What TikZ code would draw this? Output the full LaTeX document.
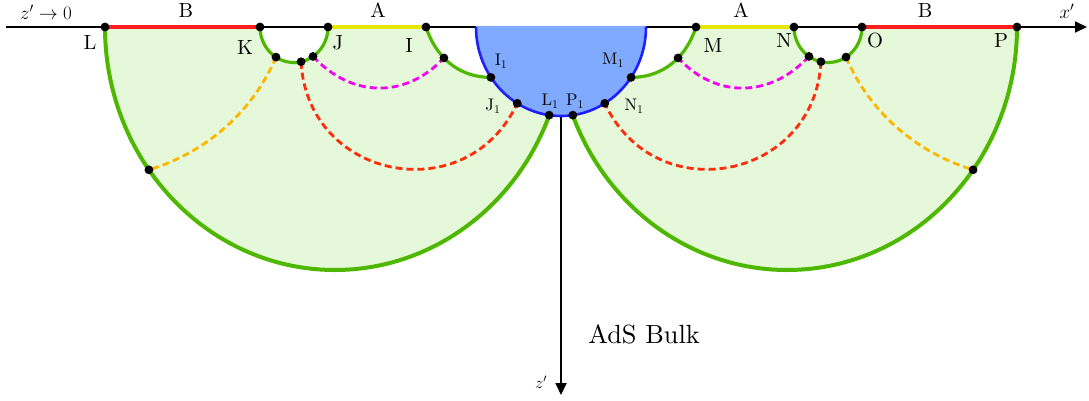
\RequirePackage{fix-cm}
\documentclass[tikz,border=0pt]{standalone}
\usepackage{fontspec}
\setmainfont{lmroman10-regular}[Extension=.otf]
\usetikzlibrary{arrows.meta}
\definecolor{gstroke}{RGB}{78,184,0}
\definecolor{gfill}{RGB}{229,248,218}
\definecolor{bfill}{RGB}{128,170,255}
\definecolor{bstroke}{RGB}{30,30,255}
\definecolor{axred}{RGB}{255,30,30}
\definecolor{axyellow}{RGB}{228,232,0}
\definecolor{dred}{RGB}{255,45,10}
\definecolor{dorange}{RGB}{255,182,0}
\definecolor{dmag}{RGB}{245,0,245}
\newcommand\lblfont{\fontsize{20.5}{24}\selectfont}
\newcommand\sublblfont{\fontsize{16.8}{20}\selectfont}
\newcommand\mathlblfont{\fontsize{19}{22}\selectfont}
\newcommand\zfont{\fontsize{16.5}{19}\selectfont}
\newcommand\bulkfont{\fontsize{26.3}{31}\selectfont}
\tikzset{
  gbig/.style={draw=gstroke,line width=4pt},
  gsmall/.style={draw=gstroke,line width=3.2pt},
  bline/.style={draw=bstroke,line width=2.6pt},
  axline/.style={line width=1.8pt,-{Triangle[length=12pt,width=11pt]}},
  seg/.style={line width=4pt},
  dsh/.style={line width=2.8pt,dash pattern=on 7pt off 4pt},
  lab/.style={inner sep=0pt,font=\lblfont},
  slab/.style={inner sep=0pt,font=\sublblfont},
  mlab/.style={inner sep=0pt,font=\mathlblfont},
}
\begin{document}
\begin{tikzpicture}[x=1pt,y=1pt]
\useasboundingbox (0,0) rectangle (1089,-400);
% axis points
\coordinate (L) at (105,-27);
\coordinate (K) at (260,-27);
\coordinate (J) at (328,-27);
\coordinate (I) at (426,-27);
\coordinate (M) at (696,-27);
\coordinate (N) at (794,-27);
\coordinate (O) at (862,-27);
\coordinate (P) at (1017,-27);
\coordinate (Bc) at (561,-27);
\coordinate (xs) at (6,-27);
\coordinate (xe) at (1087,-27);
\coordinate (ze) at (561,-395);
% blue disc points
\coordinate (I1) at ([shift={(214.5:85 and 89)}]Bc);
\coordinate (J1) at ([shift={(239:85 and 89)}]Bc);
\coordinate (L1) at ([shift={(262:85 and 89)}]Bc);
\coordinate (P1) at ([shift={(278:85 and 89)}]Bc);
\coordinate (N1) at ([shift={(301:85 and 89)}]Bc);
\coordinate (M1) at ([shift={(325.5:85 and 89)}]Bc);
% small semicircle points
\coordinate (ko) at ([shift={(238:34 and 35.5)}]294,-27);
\coordinate (kr) at ([shift={(282:34 and 35.5)}]294,-27);
\coordinate (km) at ([shift={(304:34 and 35.5)}]294,-27);
\coordinate (no) at ([shift={(-58:34 and 35.5)}]828,-27);
\coordinate (nr) at ([shift={(-102:34 and 35.5)}]828,-27);
\coordinate (nm) at ([shift={(-124:34 and 35.5)}]828,-27);
% big arc points
\coordinate (lo) at ([shift={(216:230 and 243)}]335,-27);
\coordinate (po) at ([shift={(-36:230 and 243)}]787,-27);

% green regions
\fill[gfill] (L) arc[start angle=180,end angle=338.63,x radius=230,y radius=243]
  -- (L1) arc[start angle=262,end angle=214.5,x radius=85,y radius=89]
  -- (I1) to[out=180,in=-72] (I) -- (J)
  arc[start angle=0,end angle=-180,x radius=34,y radius=35.5] -- cycle;
\fill[gfill] (P) arc[start angle=0,end angle=-158.63,x radius=230,y radius=243]
  -- (P1) arc[start angle=-82,end angle=-34.5,x radius=85,y radius=89]
  -- (M1) to[out=0,in=-108] (M) -- (N)
  arc[start angle=180,end angle=360,x radius=34,y radius=35.5] -- cycle;

% axes
\draw[axline] (xs) -- (xe);
\draw[axline] (Bc) -- (ze);

% blue disc
\fill[bfill] (476,-25.9) -- (646,-25.9) -- (646,-27)
  arc[start angle=0,end angle=-180,x radius=85,y radius=89] -- cycle;
\draw[bline] (646,-27) arc[start angle=0,end angle=-180,x radius=85,y radius=89];

% coloured boundary segments
\draw[seg,axred] (L) -- (K);
\draw[seg,axred] (O) -- (P);
\draw[seg,axyellow,line width=3.4pt] (J) -- (I);
\draw[seg,axyellow,line width=3.4pt] (M) -- (N);

% green geodesics
\draw[gbig] (L) arc[start angle=180,end angle=338.63,x radius=230,y radius=243];
\draw[gbig] (P) arc[start angle=0,end angle=-158.63,x radius=230,y radius=243];
\draw[gsmall] (J) arc[start angle=0,end angle=-180,x radius=34,y radius=35.5];
\draw[gsmall] (N) arc[start angle=180,end angle=360,x radius=34,y radius=35.5];
\draw[gsmall] (I) to[out=-72,in=180] coordinate[pos=0.4] (ia) (I1);
\draw[gsmall] (M) to[out=-108,in=0] coordinate[pos=0.4] (ma) (M1);

% dashed curves
\draw[dsh,dmag] (km) to[out=-47,in=-133,looseness=1.1] (ia);
\draw[dsh,dmag] (nm) to[out=-133,in=-47,looseness=1.1] (ma);
\draw[dsh,dred] (kr) to[out=-87,in=-115,looseness=1.38] (J1);
\draw[dsh,dred] (nr) to[out=-93,in=-65,looseness=1.38] (N1);
\draw[dsh,dorange] (ko) to[out=-113,in=17,looseness=0.9] (lo);
\draw[dsh,dorange] (no) to[out=-67,in=163,looseness=0.9] (po);

% dots
\foreach \p in {L,K,J,I,M,N,O,P,I1,J1,L1,P1,N1,M1,ko,kr,km,no,nr,nm,lo,po,ia,ma}
  \fill (\p) circle[radius=4.4pt];

% labels
\node[mlab] (tz0) at (46,-12) {$z'\to 0$};
\node[mlab] (tx) at (1067,-11) {$x'$};
\node[lab] (tB1) at (186,-10.5) {B};
\node[lab] (tA1) at (378,-10.5) {A};
\node[lab] (tA2) at (741,-10.5) {A};
\node[lab] (tB2) at (925,-10.5) {B};
\node[lab] (tL) at (90,-42) {L};
\node[lab] (tK) at (245,-47) {K};
\node[lab] (tJ) at (338,-43) {J};
\node[lab] (tI) at (409,-45.5) {I};
\node[lab] (tM) at (713,-45.5) {M};
\node[lab] (tN) at (784,-40.5) {N};
\node[lab] (tO) at (875,-40.5) {O};
\node[lab] (tP) at (1001,-40.5) {P};
\node[slab] (tI1) at (501,-61) {I$_1$};
\node[slab] (tJ1) at (493,-106) {J$_1$};
\node[slab] (tL1) at (550,-101) {L$_1$};
\node[slab] (tP1) at (575,-101) {P$_1$};
\node[slab] (tN1) at (634,-106) {N$_1$};
\node[slab] (tM1) at (613,-60) {M$_1$};
\node[inner sep=0pt,font=\bulkfont] (tbulk) at (644,-334) {AdS Bulk};
\node[inner sep=0pt,font=\zfont] (tz) at (541,-382) {$z'$};
\end{tikzpicture}
\end{document}
